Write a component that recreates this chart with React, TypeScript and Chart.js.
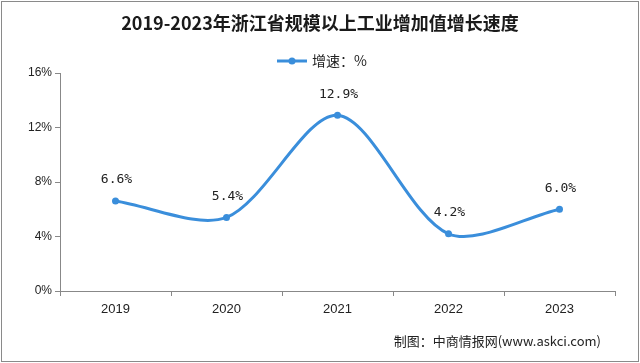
import React, { useEffect, useRef } from "react";
import { Chart, registerables } from "chart.js";

Chart.register(...registerables);

const categories = ["2019", "2020", "2021", "2022", "2023"];
const growth = [6.6, 5.4, 12.9, 4.2, 6.0];
const valueLabels = ["6.6%", "5.4%", "12.9%", "4.2%", "6.0%"];
const yTicks = [0, 4, 8, 12, 16];
const titleText = "2019-2023年浙江省规模以上工业增加值增长速度";
const legendText = "增速：%";
const sourceText = "制图：中商情报网(www.askci.com)";

const LINE = "#3a8edb";

const decorPlugin = {
  id: "decor",
  afterDraw(chart: any) {
    const ctx = chart.ctx;
    const W = chart.width;
    const H = chart.height;
    ctx.save();
    // frame
    ctx.strokeStyle = "#8a8a8a";
    ctx.lineWidth = 1;
    ctx.strokeRect(1.5, 1.5, W - 3, H - 3);
    // title
    ctx.fillStyle = "#1a1a1a";
    ctx.font = "bold 18px 'Noto Sans CJK SC', sans-serif";
    ctx.textAlign = "center";
    ctx.textBaseline = "middle";
    ctx.fillText(titleText, W / 2, 23);
    // legend
    ctx.strokeStyle = LINE;
    ctx.lineWidth = 3;
    ctx.beginPath();
    ctx.moveTo(277, 61);
    ctx.lineTo(307, 61);
    ctx.stroke();
    ctx.fillStyle = LINE;
    ctx.beginPath();
    ctx.arc(292, 61, 3.5, 0, Math.PI * 2);
    ctx.fill();
    ctx.fillStyle = "#222";
    ctx.font = "14px 'Noto Sans CJK SC', sans-serif";
    ctx.textAlign = "left";
    ctx.fillText(legendText, 312, 61);
    // source
    ctx.font = "13px 'Noto Sans CJK SC', sans-serif";
    ctx.textAlign = "right";
    ctx.fillStyle = "#222";
    ctx.fillText(sourceText, 601, 341);
    // data labels
    const meta = chart.getDatasetMeta(0);
    ctx.font = "13px 'DejaVu Sans Mono', monospace";
    ctx.textAlign = "center";
    ctx.textBaseline = "middle";
    ctx.fillStyle = "#222";
    meta.data.forEach((pt: any, i: number) => {
      ctx.fillText(valueLabels[i], pt.x + 1, pt.y - 21);
    });
    ctx.restore();
  },
};

export default function App() {
  const ref = useRef<HTMLCanvasElement | null>(null);
  useEffect(() => {
    document.body.style.margin = "0";
    const chart = new Chart(ref.current!, {
      type: "line",
      data: {
        labels: categories,
        datasets: [
          {
            label: legendText,
            data: growth,
            borderColor: LINE,
            backgroundColor: LINE,
            borderWidth: 3,
            pointRadius: 3.5,
            pointBackgroundColor: LINE,
            pointBorderWidth: 0,
            tension: 0.3,
          },
        ],
      },
      options: {
        responsive: false,
        animation: false,
        layout: { padding: { left: 10, right: 25, top: 73, bottom: 32 } },
        plugins: { legend: { display: false }, title: { display: false }, tooltip: { enabled: false } },
        scales: {
          x: {
            offset: true,
            grid: { offset: true, drawOnChartArea: false, drawTicks: true, tickLength: 5, color: "#888" },
            border: { color: "#888", width: 1 },
            ticks: { color: "#222", font: { family: "'Liberation Sans', sans-serif", size: 13 }, padding: 6 },
            afterFit: (s: any) => { s.height = 40; },
          },
          y: {
            min: 0,
            max: 16,
            afterBuildTicks: (s: any) => { s.ticks = yTicks.map((v) => ({ value: v })); },
            grid: { drawOnChartArea: false, drawTicks: true, tickLength: 5, color: "#888" },
            border: { color: "#888", width: 1 },
            ticks: {
              color: "#222",
              font: { family: "'Liberation Sans', sans-serif", size: 12 },
              padding: 3,
              callback: (v: any) => v + "%",
            },
            afterFit: (s: any) => { s.width = 50; },
          },
        },
      },
      plugins: [decorPlugin],
    });
    return () => chart.destroy();
  }, []);
  return (
    <div style={{ width: 640, height: 363, background: "#fff" }}>
      <canvas ref={ref} width={640} height={363} style={{ display: "block" }} />
    </div>
  );
}
